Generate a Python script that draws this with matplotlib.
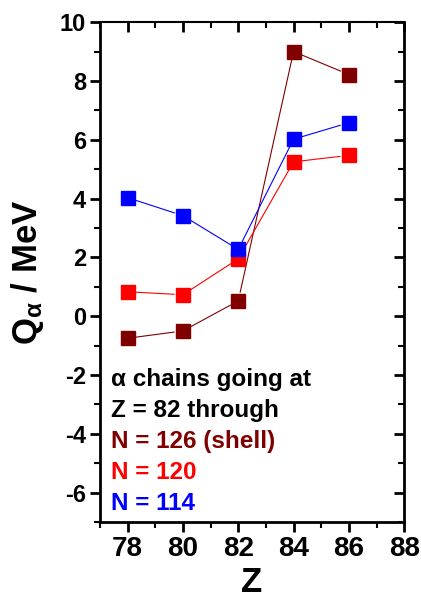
import numpy as np
import matplotlib
matplotlib.use("Agg")
import matplotlib.pyplot as plt

plt.rcParams['font.family'] = ['Liberation Sans', 'DejaVu Sans']
plt.rcParams['font.weight'] = 'bold'
plt.rcParams['axes.unicode_minus'] = False
plt.rcParams['mathtext.fontset'] = 'custom'
plt.rcParams['mathtext.rm'] = 'Liberation Sans:bold'
plt.rcParams['mathtext.bf'] = 'Liberation Sans:bold'
plt.rcParams['mathtext.sf'] = 'Liberation Sans'
plt.rcParams['mathtext.it'] = 'Liberation Sans'

# Daten
Z = [78, 80, 82, 84, 86]
q_n126 = [-0.75, -0.50, 0.52, 9.00, 8.22]   # N = 126 (shell)
q_n120 = [0.83, 0.73, 1.95, 5.25, 5.47]     # N = 120
q_n114 = [4.03, 3.42, 2.27, 6.02, 6.58]     # N = 114

x_ticks = [78, 80, 82, 84, 86, 88]
y_ticks = [-6, -4, -2, 0, 2, 4, 6, 8, 10]

series = [
    (q_n126, "#800000", "N = 126 (shell)"),
    (q_n120, "#ff0000", "N = 120"),
    (q_n114, "#0000ff", "N = 114"),
]

fig = plt.figure(figsize=(4.21, 5.99), dpi=100)
rect = [0.2375, 0.1285, 0.7225, 0.8345]
ax = fig.add_axes(rect)
ax.set_xlim(77, 88)
ax.set_ylim(-7, 10)


def gap_line(ax, x, y, color, gap=9):
    # Linien zwischen den Punkten mit Lücke um die Marker (Origin-Stil)
    pts = ax.transData.transform(np.column_stack([x, y]))
    inv = ax.transData.inverted()
    for p0, p1 in zip(pts[:-1], pts[1:]):
        d = p1 - p0
        L = np.hypot(*d)
        if L <= 2 * gap:
            continue
        u = d / L
        a = inv.transform(p0 + u * gap)
        b = inv.transform(p1 - u * gap)
        ax.plot([a[0], b[0]], [a[1], b[1]], color=color, lw=0.8, zorder=2)


for vals, col, lab in series:
    gap_line(ax, Z, vals, col)
    ax.plot(Z, vals, ls="none", marker="s", ms=9.5, color=col, zorder=3)

# Achsen unten/links: Ticks nach außen
ax.set_xticks(x_ticks)
ax.set_yticks(y_ticks)
ax.set_xticklabels([str(v) for v in x_ticks], fontsize=20, fontweight="bold")
ax.set_yticklabels([str(v) for v in y_ticks], fontsize=17, fontweight="bold")
ax.set_xticks(np.arange(77, 88.1, 1), minor=True)
ax.set_yticks(np.arange(-7, 10.1, 1), minor=True)
ax.tick_params(axis="both", which="major", direction="out", width=2, length=7, pad=3)
ax.tick_params(axis="both", which="minor", direction="out", width=1.5, length=4)
for s in ["left", "right", "bottom"]:
    ax.spines[s].set_linewidth(2)
ax.spines["top"].set_linewidth(1.5)

# Achsen oben/rechts: Ticks nach innen (zweite Achse drüber)
ax2 = fig.add_axes(rect, sharex=ax, sharey=ax)
ax2.patch.set_visible(False)
for s in ax2.spines.values():
    s.set_visible(False)
ax2.tick_params(axis="both", which="both", direction="in", bottom=False, left=False,
                top=True, right=True, labelbottom=False, labelleft=False)
ax2.tick_params(axis="both", which="major", width=2, length=7)
ax2.tick_params(axis="both", which="minor", width=1.5, length=4)

ax.set_xlabel("Z", fontsize=25, fontweight="bold", labelpad=3)
ax.set_ylabel(r"Q$_{\mathsf{α}}$ / MeV", fontsize=25, fontweight="bold", labelpad=10)

# Beschriftung
ax.text(0.036, 0.286, "α chains going at", transform=ax.transAxes, fontsize=17.5,
        fontweight="bold", color="black", va="center")
ax.text(0.036, 0.224, "Z = 82 through", transform=ax.transAxes, fontsize=17.5,
        fontweight="bold", color="black", va="center")
for i, (vals, col, lab) in enumerate(series):
    ax.text(0.036, 0.162 - 0.062 * i, lab, transform=ax.transAxes, fontsize=17.5,
            fontweight="bold", color=col, va="center")

fig.savefig("out.png", dpi=100)
